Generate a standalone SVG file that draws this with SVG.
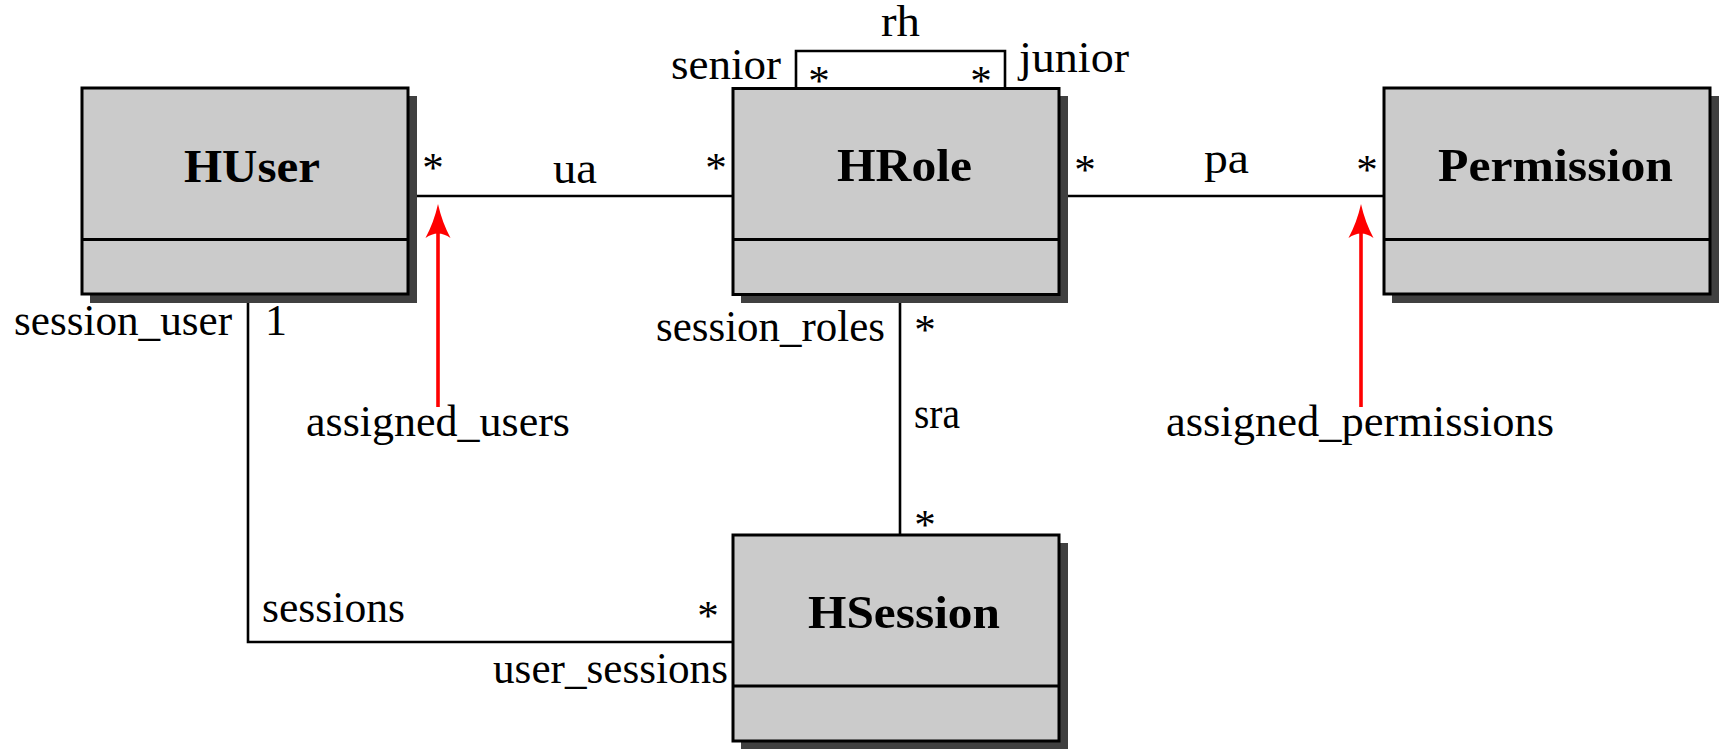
<svg xmlns="http://www.w3.org/2000/svg" width="1724" height="749" viewBox="0 0 1724 749">
  <style>
    .shadow { fill: #404040; }
    .box { fill: #cbcbcb; stroke: #000; stroke-width: 3; }
    .div { stroke: #000; stroke-width: 3; }
    .conn { fill: none; stroke: #000; stroke-width: 2.6; }
    .nav { stroke: #ff0000; stroke-width: 3.6; }
    .head { fill: #ff0000; }
    text { font-family: "Liberation Serif", "Times New Roman", serif; fill: #000; }
    .ttl { font-size: 47px; font-weight: bold; }
    .lbl { font-size: 44px; }
    .mult { font-size: 43px; text-anchor: middle; }
  </style>
  <defs>
    <!-- LaTeX-style arrow tip, pointing up, tip at origin -->
    <path id="tip" class="head" d="M0,0 Q-4,18 -12.5,34 Q0,25 12.5,34 Q4,18 0,0 Z"/>
  </defs>

  <!-- associations -->
  <g id="connectors">
    <line class="conn" x1="417" y1="196" x2="733" y2="196"/>
    <line class="conn" x1="1068" y1="196" x2="1384" y2="196"/>
    <path class="conn" d="M796,88 V51 H1005 V88"/>
    <line class="conn" x1="900" y1="303" x2="900" y2="535"/>
    <path class="conn" d="M248,303 V642 H733"/>
    <!-- navigation arrows -->
    <line class="nav" x1="438" y1="407" x2="438" y2="225"/>
    <use href="#tip" x="438" y="204"/>
    <line class="nav" x1="1361" y1="407" x2="1361" y2="225"/>
    <use href="#tip" x="1361" y="204"/>
  </g>

  <g id="huser">
    <rect class="shadow" x="90" y="96" width="327" height="207"/>
    <rect class="box" x="82" y="88" width="326" height="206"/>
    <line class="div" x1="82" y1="239.5" x2="408" y2="239.5"/>
    <text class="ttl" x="184" y="182" textLength="136" lengthAdjust="spacingAndGlyphs">HUser</text>
  </g>

  <g id="hrole">
    <rect class="shadow" x="741" y="96" width="327" height="207"/>
    <rect class="box" x="733" y="88.5" width="326" height="206"/>
    <line class="div" x1="733" y1="239.5" x2="1059" y2="239.5"/>
    <text class="ttl" x="837" y="181" textLength="135" lengthAdjust="spacingAndGlyphs">HRole</text>
  </g>

  <g id="permission">
    <rect class="shadow" x="1392" y="96" width="327" height="207"/>
    <rect class="box" x="1384" y="88" width="326" height="206"/>
    <line class="div" x1="1384" y1="239.5" x2="1710" y2="239.5"/>
    <text class="ttl" x="1438" y="181" textLength="235" lengthAdjust="spacingAndGlyphs">Permission</text>
  </g>

  <g id="hsession">
    <rect class="shadow" x="741" y="543" width="327" height="207"/>
    <rect class="box" x="733" y="535" width="326" height="206"/>
    <line class="div" x1="733" y1="686" x2="1059" y2="686"/>
    <text class="ttl" x="808" y="628" textLength="192" lengthAdjust="spacingAndGlyphs">HSession</text>
  </g>

  <!-- association names and role names -->
  <g id="labels">
    <text class="lbl" x="881" y="36" textLength="39" lengthAdjust="spacingAndGlyphs">rh</text>
    <text class="lbl" x="671" y="79" textLength="110" lengthAdjust="spacingAndGlyphs">senior</text>
    <text class="lbl" x="1019" y="72" textLength="110" lengthAdjust="spacingAndGlyphs">junior</text>
    <text class="lbl" x="553" y="183" textLength="44" lengthAdjust="spacingAndGlyphs">ua</text>
    <text class="lbl" x="1204" y="173" textLength="45" lengthAdjust="spacingAndGlyphs">pa</text>
    <text class="lbl" x="14" y="335" textLength="218" lengthAdjust="spacingAndGlyphs">session_user</text>
    <text class="lbl" x="265" y="335">1</text>
    <text class="lbl" x="656" y="341" textLength="229" lengthAdjust="spacingAndGlyphs">session_roles</text>
    <text class="lbl" x="914" y="428" textLength="46" lengthAdjust="spacingAndGlyphs">sra</text>
    <text class="lbl" x="306" y="436" textLength="264" lengthAdjust="spacingAndGlyphs">assigned_users</text>
    <text class="lbl" x="1166" y="436" textLength="388" lengthAdjust="spacingAndGlyphs">assigned_permissions</text>
    <text class="lbl" x="262" y="622" textLength="143" lengthAdjust="spacingAndGlyphs">sessions</text>
    <text class="lbl" x="493" y="683" textLength="235" lengthAdjust="spacingAndGlyphs">user_sessions</text>
  </g>

  <!-- multiplicities -->
  <g id="multiplicities">
    <text class="mult" x="433" y="182">*</text>
    <text class="mult" x="716" y="182">*</text>
    <text class="mult" x="1085" y="184">*</text>
    <text class="mult" x="1367" y="184">*</text>
    <text class="mult" x="819" y="95">*</text>
    <text class="mult" x="981" y="95">*</text>
    <text class="mult" x="925" y="344">*</text>
    <text class="mult" x="925" y="539">*</text>
    <text class="mult" x="708" y="630">*</text>
  </g>
</svg>
